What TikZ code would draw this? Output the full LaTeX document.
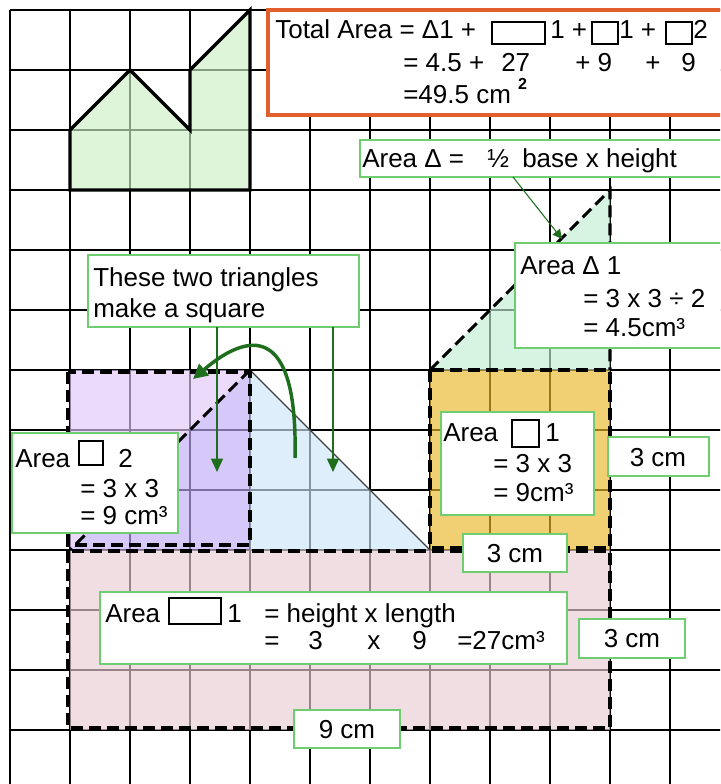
\documentclass[tikz,border=0pt]{standalone}
\usepackage{fontspec}
\setmainfont{Liberation Sans}
\usetikzlibrary{arrows.meta,fit}
\definecolor{fgreen}{RGB}{204,240,198}
\definecolor{fmint}{RGB}{193,236,209}
\definecolor{fyellow}{RGB}{232,183,40}
\definecolor{fpink}{RGB}{232,204,210}
\definecolor{flav}{RGB}{226,198,247}
\definecolor{fpurple}{RGB}{192,172,247}
\definecolor{fblue}{RGB}{204,229,247}
\definecolor{boxgreen}{RGB}{110,205,110}
\definecolor{arrowgreen}{RGB}{30,110,30}
\definecolor{orangeb}{RGB}{225,95,45}
\tikzset{
  gridline/.style={black, line width=1.05pt},
  region/.style={fill opacity=0.65},
  outline/.style={black, line width=2.4pt, line join=miter},
  dashline/.style={black, line width=2.3pt, dash pattern=on 9pt off 4.5pt},
  hypline/.style={black!75, line width=0.8pt},
  gbox/.style={draw=boxgreen, line width=1.2pt, fill=white, inner sep=0pt},
  obox/.style={draw=orangeb, line width=2.4pt, fill=white, inner sep=0pt},
  symbox/.style={draw=black, line width=0.9pt, inner sep=0pt},
  txt/.style={anchor=base west, inner sep=0pt, font=\fontsize{19.5pt}{23pt}\selectfont},
  ctxt/.style={anchor=base, inner sep=0pt, font=\fontsize{19.5pt}{23pt}\selectfont},
  garrow/.style={draw=arrowgreen, line width=1.1pt, -{Triangle[length=10pt,width=9pt]}, arrowgreen},
  farrow/.style={draw=arrowgreen, line width=0.8pt, -{Triangle[length=7pt,width=7pt]}, arrowgreen},
  carrow/.style={draw=arrowgreen, line width=2.6pt, -{Triangle[length=11pt,width=11pt]}, arrowgreen}
}
\begin{document}
\begin{tikzpicture}[x=0.75pt,y=-0.75pt]
\useasboundingbox (0,0) rectangle (720,784);
\begin{scope}
\clip (0,0) rectangle (720,784);
% grid
\foreach \i in {10,70,...,670} \draw[gridline] (\i,10) -- (\i,790);
\foreach \j in {10,70,...,730} \draw[gridline] (10,\j) -- (725,\j);
% coloured regions
\fill[region, fgreen] (70,190) -- (70,130) -- (130,70) -- (190,130) -- (190,70) -- (250,10) -- (250,190) -- cycle;
\fill[region, fmint] (430,370) -- (610,190) -- (610,370) -- cycle;
\fill[region, fyellow] (430,370) rectangle (610,550);
\fill[region, fpink] (70,550) rectangle (610,730);
\fill[region, flav] (70,370) -- (250,370) -- (70,550) -- cycle;
\fill[region, fpurple] (250,370) -- (250,550) -- (70,550) -- cycle;
\fill[region, fblue] (250,370) -- (250,550) -- (430,550) -- cycle;
% outlines
\draw[outline] (70,190) -- (70,130) -- (130,70) -- (190,130) -- (190,70) -- (250,10) -- (250,190) -- cycle;
\draw[hypline] (250,370) -- (430,550);
\draw[dashline] (430,370) -- (610,190) -- (610,370);
\draw[dashline] (430,370) rectangle (610,548);
\draw[dashline] (68,551) rectangle (610,728);
\draw[dashline] (68,372) rectangle (250,545);
\draw[dashline] (250,370) -- (70,550);
% boxes
\node[obox, fit={(268,10) (730,115)}] (total) {};
\node[gbox, fit={(360,140) (730,177)}] (formula) {};
\node[gbox, fit={(515,243) (730,348)}] (areaD) {};
\node[gbox, fit={(88,255) (359,327)}] (twotri) {};
\node[gbox, fit={(12,433) (178,533)}] (areaS2) {};
\node[gbox, fit={(441,412) (594,515)}] (areaS1) {};
\node[gbox, fit={(608,437) (709,476)}] (cmA) {};
\node[gbox, fit={(463,534) (567,572)}] (cmB) {};
\node[gbox, fit={(100,592) (567,664)}] (areaR) {};
\node[gbox, fit={(579,619) (685,658)}] (cmC) {};
\node[gbox, fit={(294,710) (400,748)}] (cmD) {};
% total area text
\node[txt] (t1) at (275,39) {Total Area = Δ1 +};
\node[symbox, fit={(492,22) (545,44)}] (s1) {};
\node[txt] (t2) at (550,39) {1 +};
\node[symbox, fit={(592,22) (618,44)}] (s2) {};
\node[txt] (t3) at (619,39) {1 +};
\node[symbox, fit={(666,22) (692,44)}] (s3) {};
\node[txt] (t4) at (693,39) {2};
\node[txt] (t5) at (403,72) {= 4.5 +};
\node[txt] (t6) at (501,72) {27};
\node[txt] (t7) at (575,72) {+ 9};
\node[txt] (t8) at (645,72) {+};
\node[txt] (t9) at (681,72) {9};
\node[txt] (t10) at (403,104) {=49.5 cm \raisebox{0.55em}{\fontsize{12pt}{14pt}\selectfont\bfseries 2}};
% formula text
\node[txt] (f1) at (362,168) {Area Δ =};
\node[txt] (f2) at (487,168) {½};
\node[txt] (f3) at (522,168) {base x height};
% area triangle 1
\node[txt] (d1) at (520,274) {Area Δ 1};
\node[txt] (d2) at (583,307) {= 3 x 3 ÷ 2};
\node[txt] (d3) at (583,336) {= 4.5cm³};
% two triangles
\node[txt] (w1) at (93,286) {These two triangles};
\node[txt] (w2) at (93,317) {make a square};
% area square 2
\node[txt] (q1) at (15,467) {Area};
\node[symbox, fit={(79,441) (103,465)}] (qs) {};
\node[txt] (q2) at (118,467) {2};
\node[txt] (q3) at (80,497) {= 3 x 3};
\node[txt] (q4) at (80,524) {= 9 cm³};
% area square 1
\node[txt] (p1) at (443,441) {Area};
\node[symbox, fit={(512,420) (539,447)}] (ps) {};
\node[txt] (p2) at (545,441) {1};
\node[txt] (p3) at (493,472) {= 3 x 3};
\node[txt] (p4) at (493,501) {= 9cm³};
% cm labels
\node[ctxt] (cA) at (658,466) {3 cm};
\node[ctxt] (cB) at (515,562) {3 cm};
\node[ctxt] (cC) at (632,647) {3 cm};
\node[ctxt] (cD) at (347,738) {9 cm};
% area rectangle 1
\node[txt] (r1) at (105,622) {Area};
\node[symbox, fit={(169,598) (221,624)}] (rs) {};
\node[txt] (r2) at (227,622) {1};
\node[txt] (r3) at (264,622) {= height x length};
\node[txt] (r4) at (264,649) {=};
\node[txt] (r5) at (308,649) {3};
\node[txt] (r6) at (367,649) {x};
\node[txt] (r7) at (412,649) {9};
\node[txt] (r8) at (457,649) {=27cm³};
% arrows
\coordinate (fa) at (513,177);
\coordinate (fb) at (562,239);
\draw[farrow] (fa) -- (fb);
\coordinate (aS) at (217,327);
\coordinate (aE) at (217,472);
\coordinate (bS) at (333,327);
\coordinate (bE) at (333,472);
\draw[garrow] (aS) -- (aE);
\draw[garrow] (bS) -- (bE);
\coordinate (cS) at (295,458);
\coordinate (cE) at (193,379);
\draw[carrow] (cS) .. controls (298,322) and (248,332) .. (cE);
\end{scope}
\end{tikzpicture}
\end{document}
